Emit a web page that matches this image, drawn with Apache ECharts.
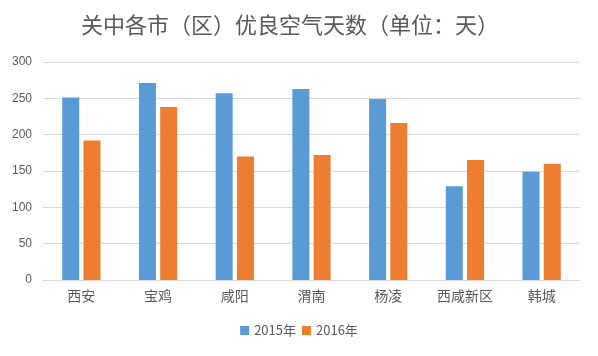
<!DOCTYPE html>
<html><head><meta charset="utf-8">
<script src="https://cdn.jsdelivr.net/npm/echarts@6/dist/echarts.min.js"></script>
<style>html,body{margin:0;padding:0;background:#fff}#c{width:598px;height:356px}</style>
</head><body><div id="c"></div>
<script>
const categories = ['西安','宝鸡','咸阳','渭南','杨凌','西咸新区','韩城'];
const values2015 = [251,271,257,263,249,129,149];
const values2016 = [192,238,170,172,216,165,160];
const seriesNames = ['2015年','2016年'];
const titleText = '关中各市（区）优良空气天数（单位：天）';

const chart = echarts.init(document.getElementById('c'));
chart.setOption({
  animation:false,
  title:{text:titleText,left:76,top:9,textStyle:{fontFamily:'Noto Sans CJK SC',fontSize:22,fontWeight:'normal',color:'#595959'}},
  legend:{bottom:14,left:'center',itemWidth:9,itemHeight:9,itemGap:6,icon:'rect',
    textStyle:{fontFamily:'Noto Sans CJK SC',fontSize:13,color:'#595959'},data:seriesNames},
  grid:{left:43,right:18,top:62,bottom:76},
  xAxis:{type:'category',data:categories,axisTick:{show:false},
    axisLine:{lineStyle:{color:'#d9d9d9'}},
    axisLabel:{fontFamily:'Noto Sans CJK SC',fontSize:14,color:'#595959',margin:9}},
  yAxis:{type:'value',min:0,max:300,interval:50,
    axisLabel:{fontFamily:'Liberation Sans',fontSize:12,color:'#595959',margin:11},
    splitLine:{lineStyle:{color:'#d9d9d9'}},axisLine:{show:false}},
  series:[
    {name:seriesNames[0],type:'bar',data:values2015,barWidth:17,barGap:'25%',itemStyle:{color:'#5b9bd5'}},
    {name:seriesNames[1],type:'bar',data:values2016,barWidth:17,itemStyle:{color:'#ed7d31'}}
  ]
});
</script></body></html>
